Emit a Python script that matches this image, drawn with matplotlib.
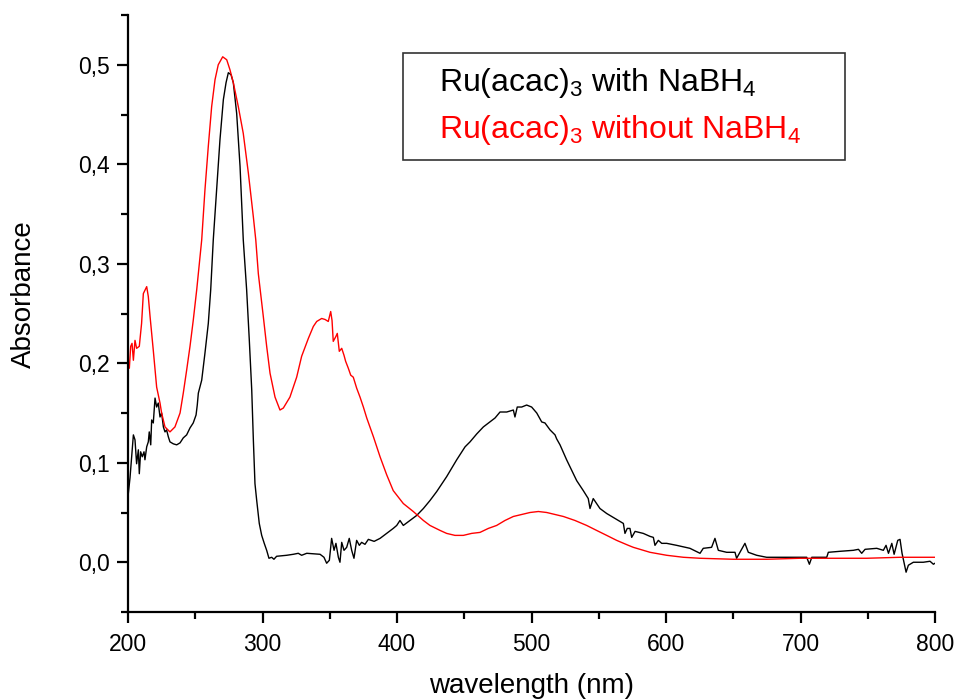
import matplotlib
matplotlib.use("Agg")
import matplotlib.pyplot as plt
from matplotlib.lines import Line2D
from matplotlib.ticker import MultipleLocator, FixedLocator

plt.rcParams['font.family'] = ['Liberation Sans', 'DejaVu Sans']
plt.rcParams['mathtext.fontset'] = 'custom'
plt.rcParams['mathtext.rm'] = 'Liberation Sans'
plt.rcParams['mathtext.it'] = 'Liberation Sans'

# ---------------- data ----------------
label_with = r"Ru(acac)$_3$ with NaBH$_4$"
label_without = r"Ru(acac)$_3$ without NaBH$_4$"

wl_with = [200.0, 201.5, 204.0, 205.2, 206.4, 207.7, 208.4, 209.4, 210.6, 211.9, 212.6, 213.9,
           215.1, 215.8, 216.9, 217.6, 218.8, 220.1, 221.3, 222.5, 223.8, 225.0, 226.3, 227.5,
           228.7, 230.0, 231.2, 233.7, 236.2, 238.7, 241.1, 243.6, 246.1, 248.5, 250.6, 251.5,
           252.3, 254.8, 257.2, 259.7, 261.5, 263.4, 265.9, 268.4, 270.9, 272.9, 274.6, 276.6,
           278.3, 280.8, 283.3, 285.7, 288.2, 290.2, 292.0, 293.2, 294.4, 295.7, 297.6, 299.4,
           301.3, 303.1, 304.8, 306.8, 308.5, 310.5, 318.0, 322.9, 326.6, 329.1, 332.9, 342.8,
           345.7, 347.7, 349.7, 351.4, 353.2, 354.6, 356.4, 357.6, 358.9, 360.6, 362.6, 364.5,
           366.3, 368.0, 370.0, 372.0, 373.7, 376.2, 378.7, 383.0, 387.4, 392.3, 397.2, 399.8,
           402.2, 404.7, 409.7, 414.6, 419.6, 424.5, 429.5, 436.9, 444.4, 450.6, 454.3, 459.3,
           464.2, 469.1, 472.9, 476.6, 481.6, 486.5, 487.7, 489.4, 492.7, 496.4, 500.1, 503.9,
           507.6, 510.0, 513.8, 517.5, 518.7, 521.2, 526.1, 533.6, 538.5, 542.2, 543.5, 545.9,
           550.9, 555.9, 560.8, 565.8, 568.3, 569.5, 571.2, 573.2, 574.5, 577.0, 583.1, 588.1,
           590.6, 591.8, 594.3, 596.8, 600.5, 607.9, 617.8, 625.3, 627.7, 633.9, 636.4, 638.9,
           645.1, 651.3, 652.5, 655.0, 658.7, 661.2, 667.4, 674.8, 687.2, 699.6, 704.6, 706.6,
           708.4, 719.5, 720.7, 729.4, 739.3, 743.1, 745.5, 748.0, 756.7, 761.6, 763.6, 765.4,
           767.9, 769.6, 772.3, 774.0, 775.5, 778.5, 780.2, 783.9, 791.3, 796.3, 798.8, 800.0]
abs_with = [0.066, 0.085, 0.128, 0.123, 0.099, 0.113, 0.089, 0.111, 0.106, 0.111, 0.103, 0.116,
            0.121, 0.131, 0.118, 0.143, 0.140, 0.165, 0.156, 0.160, 0.146, 0.150, 0.136, 0.131,
            0.133, 0.126, 0.121, 0.119, 0.118, 0.120, 0.125, 0.128, 0.135, 0.140, 0.148, 0.158,
            0.170, 0.183, 0.210, 0.240, 0.274, 0.324, 0.374, 0.425, 0.465, 0.482, 0.492, 0.490,
            0.482, 0.451, 0.398, 0.324, 0.274, 0.223, 0.173, 0.123, 0.079, 0.062, 0.039, 0.027,
            0.019, 0.012, 0.004, 0.005, 0.003, 0.006, 0.007, 0.008, 0.009, 0.007, 0.009, 0.008,
            0.005, -0.001, 0.002, 0.024, 0.012, 0.019, 0.005, 0.000, 0.020, 0.012, 0.015, 0.024,
            0.012, 0.004, 0.022, 0.017, 0.020, 0.018, 0.023, 0.021, 0.024, 0.029, 0.034, 0.037,
            0.042, 0.037, 0.042, 0.047, 0.054, 0.062, 0.071, 0.086, 0.103, 0.116, 0.121, 0.129,
            0.136, 0.141, 0.145, 0.151, 0.151, 0.153, 0.146, 0.156, 0.156, 0.158, 0.156, 0.150,
            0.141, 0.140, 0.133, 0.128, 0.124, 0.118, 0.103, 0.082, 0.072, 0.064, 0.054, 0.064,
            0.054, 0.049, 0.045, 0.041, 0.039, 0.029, 0.034, 0.034, 0.025, 0.031, 0.029, 0.026,
            0.025, 0.017, 0.022, 0.019, 0.019, 0.017, 0.014, 0.009, 0.014, 0.015, 0.024, 0.012,
            0.010, 0.010, 0.004, 0.010, 0.019, 0.010, 0.007, 0.005, 0.005, 0.005, 0.005, -0.002,
            0.005, 0.005, 0.010, 0.011, 0.012, 0.013, 0.009, 0.013, 0.014, 0.012, 0.017, 0.009,
            0.019, 0.008, 0.022, 0.023, 0.009, -0.010, -0.003, 0.000, 0.000, 0.001, -0.002, -0.001]

wl_without = [200.0, 201.0, 202.0, 203.0, 204.0, 205.2, 206.4, 208.4, 210.1, 211.4, 213.9, 215.1,
              216.4, 218.8, 221.3, 223.8, 225.0, 227.5, 231.2, 234.9, 238.7, 241.1, 243.6, 246.1,
              248.5, 251.1, 254.8, 257.2, 259.7, 262.2, 264.7, 267.1, 270.4, 273.4, 275.8, 278.3,
              282.0, 285.7, 289.5, 293.2, 295.0, 296.9, 300.6, 303.1, 305.6, 309.3, 313.0, 315.5,
              320.4, 325.4, 329.1, 334.1, 337.8, 340.3, 344.0, 346.5, 348.9, 350.7, 351.7, 352.6,
              354.6, 355.6, 357.1, 358.9, 360.6, 361.8, 363.8, 365.6, 367.5, 370.0, 372.5, 375.0,
              377.5, 382.5, 387.4, 392.3, 397.2, 404.7, 412.1, 419.6, 424.5, 432.0, 436.9, 443.1,
              449.3, 455.5, 461.7, 467.9, 474.1, 480.3, 486.5, 492.7, 498.9, 505.1, 511.3, 517.5,
              523.7, 532.3, 541.0, 548.4, 555.9, 563.3, 572.0, 575.7, 588.1, 600.5, 612.9, 625.3,
              650.0, 674.8, 699.6, 724.4, 749.2, 774.0, 800.0]
abs_without = [0.200, 0.195, 0.217, 0.220, 0.203, 0.223, 0.215, 0.217, 0.240, 0.270, 0.277, 0.267,
               0.247, 0.213, 0.176, 0.160, 0.150, 0.136, 0.131, 0.136, 0.150, 0.170, 0.193, 0.217,
               0.243, 0.274, 0.324, 0.374, 0.418, 0.458, 0.485, 0.500, 0.508, 0.505, 0.495, 0.482,
               0.458, 0.431, 0.391, 0.347, 0.324, 0.290, 0.247, 0.217, 0.190, 0.166, 0.153, 0.155,
               0.166, 0.186, 0.207, 0.225, 0.237, 0.242, 0.245, 0.244, 0.242, 0.252, 0.243, 0.222,
               0.227, 0.230, 0.212, 0.215, 0.208, 0.202, 0.195, 0.188, 0.186, 0.175, 0.166, 0.156,
               0.145, 0.126, 0.106, 0.088, 0.072, 0.059, 0.051, 0.042, 0.037, 0.032, 0.029, 0.027,
               0.027, 0.029, 0.030, 0.034, 0.037, 0.042, 0.046, 0.048, 0.050, 0.051, 0.050, 0.048,
               0.046, 0.042, 0.037, 0.032, 0.027, 0.022, 0.017, 0.015, 0.010, 0.007, 0.005, 0.004,
               0.003, 0.003, 0.004, 0.004, 0.004, 0.005, 0.005]

x_major_ticks = [200, 300, 400, 500, 600, 700, 800]
x_tick_labels = ["200", "300", "400", "500", "600", "700", "800"]
y_major_ticks = [0.0, 0.1, 0.2, 0.3, 0.4, 0.5]
y_tick_labels = ["0,0", "0,1", "0,2", "0,3", "0,4", "0,5"]

# ---------------- figure ----------------
fig = plt.figure(figsize=(9.57, 7.0), dpi=100)
ax = fig.add_axes([128 / 957, 88 / 700, 807 / 957, 597 / 700])

ax.plot(wl_with, abs_with, color='black', lw=1.0, label=label_with)
ax.plot(wl_without, abs_without, color='red', lw=1.0, label=label_without)

ax.set_xlim(200, 800)
ax.set_ylim(-0.05, 0.55)

for s in ['top', 'right']:
    ax.spines[s].set_visible(False)
for s in ['left', 'bottom']:
    ax.spines[s].set_linewidth(1.6)

ax.xaxis.set_major_locator(FixedLocator(x_major_ticks))
ax.set_xticklabels(x_tick_labels)
ax.xaxis.set_minor_locator(MultipleLocator(50))
ax.yaxis.set_major_locator(FixedLocator(y_major_ticks))
ax.set_yticklabels(y_tick_labels)
ax.yaxis.set_minor_locator(MultipleLocator(0.05))

ax.tick_params(which='major', direction='out', length=8, width=1.6, labelsize=16.5)
ax.tick_params(axis='x', which='major', pad=7)
ax.tick_params(axis='y', which='major', pad=5)
ax.tick_params(which='minor', direction='out', length=5, width=1.6)

ax.set_xlabel("wavelength (nm)", fontsize=20)
ax.set_ylabel("Absorbance", fontsize=20)
ax.xaxis.set_label_coords(0.5, -0.102)
ax.yaxis.set_label_coords(-0.113, 0.533)

# legend box position (axes fraction)
x0 = (403 - 128) / 807
wbox = (845 - 403) / 807
ytop = (612 - 53) / 597
ybot = (612 - 157) / 597

handles = [Line2D([], [], color='black', lw=0), Line2D([], [], color='red', lw=0)]
leg = ax.legend(handles, [label_with, label_without], loc='upper left', mode='expand',
                bbox_to_anchor=(x0, ybot, wbox, ytop - ybot),
                handlelength=0, handletextpad=0.72, borderpad=0.42, borderaxespad=0,
                labelspacing=0.38, fontsize=23, fancybox=False, frameon=True,
                labelcolor=['black', 'red'], edgecolor='black')
leg.get_frame().set_linewidth(1.2)

fig.savefig("out.png", dpi=100)
